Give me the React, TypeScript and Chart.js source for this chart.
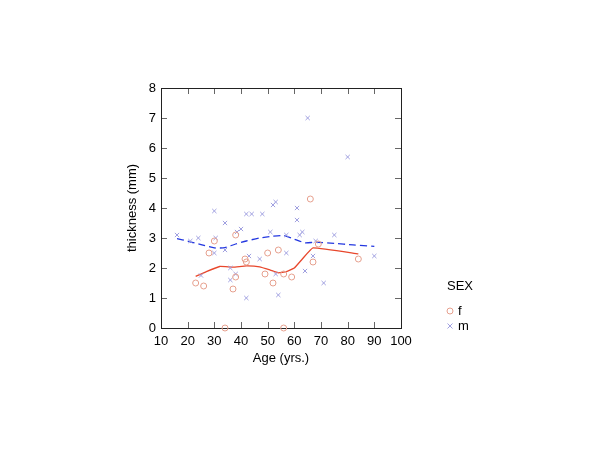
import React, { useEffect, useRef } from "react";
import { Chart, registerables } from "chart.js";

Chart.register(...registerables);

// ---- data ----
const femaleAge = [23, 26, 28, 30, 34, 37, 38, 38, 41.5, 42, 49, 50, 52, 54, 56, 56, 59, 66, 67, 69, 84];
const femaleThickness = [1.5, 1.4, 2.5, 2.9, 0.0, 1.3, 1.7, 3.1, 2.3, 2.2, 1.8, 2.5, 1.5, 2.6, 1.8, 0.0, 1.7, 4.3, 2.2, 2.8, 2.3];

const maleAge = [16, 21, 24, 25, 30, 30.5, 30, 34, 34, 36, 36, 38, 38.5, 40, 42, 44, 48, 42, 43, 47, 51, 52, 53, 53, 54, 57, 57, 61, 61, 62, 63, 64, 65, 67, 68, 71, 75, 80, 90];
const maleThickness = [3.1, 2.9, 3.0, 1.75, 3.9, 3.0, 2.5, 3.5, 2.6, 2.0, 1.6, 1.8, 3.2, 3.3, 3.8, 3.8, 3.8, 1.0, 2.4, 2.3, 3.2, 4.1, 4.2, 1.8, 1.1, 3.1, 2.5, 4.0, 3.6, 3.1, 3.2, 1.9, 7.0, 2.4, 2.9, 1.5, 3.1, 5.7, 2.4];

const femaleFitAge = [23, 27, 32, 37, 42, 47, 51, 54, 57, 60, 63, 67, 84];
const femaleFitValue = [1.72, 1.88, 2.05, 2.03, 2.07, 2.04, 1.93, 1.84, 1.88, 2.0, 2.3, 2.67, 2.47];

const maleFitAge = [16, 20, 25, 30, 34, 38, 42, 47, 52, 56, 60, 64, 68, 75, 82, 90];
const maleFitValue = [2.98, 2.9, 2.78, 2.67, 2.68, 2.8, 2.9, 3.0, 3.06, 3.08, 2.96, 2.84, 2.86, 2.82, 2.77, 2.72];

const xTickValues = [10, 20, 30, 40, 50, 60, 70, 80, 90, 100];
const yTickValues = [0, 1, 2, 3, 4, 5, 6, 7, 8];

const xTitle = "Age (yrs.)";
const yTitle = "thickness (mm)";
const legendTitle = "SEX";
const seriesLabels = ["f", "m"];

const femaleColor = "#e6a08e";
const maleColor = "#a0a0e0";
const femaleLineColor = "#e8472c";
const maleLineColor = "#2438e0";
const FONT = "'Liberation Sans', Arial, sans-serif";

const toPoints = (xs: number[], ys: number[]) => xs.map((x, i) => ({ x, y: ys[i] }));

const framePlugin = {
  id: "frameTicks",
  beforeDatasetsDraw(chart: any) {
    const { ctx, chartArea: a, scales } = chart;
    const xs = scales.x;
    const ys = scales.y;
    ctx.save();
    ctx.lineWidth = 1;
    ctx.strokeStyle = "#666";
    const tl = 6;
    ctx.beginPath();
    xTickValues.forEach((v) => {
      const px = Math.round(xs.getPixelForValue(v)) + 0.5;
      ctx.moveTo(px, a.bottom);
      ctx.lineTo(px, a.bottom - tl);
      ctx.moveTo(px, a.top);
      ctx.lineTo(px, a.top + tl);
    });
    yTickValues.forEach((v) => {
      const py = Math.round(ys.getPixelForValue(v)) + 0.5;
      ctx.moveTo(a.left, py);
      ctx.lineTo(a.left + tl, py);
      ctx.moveTo(a.right, py);
      ctx.lineTo(a.right - tl, py);
    });
    ctx.stroke();
    ctx.strokeStyle = "#222";
    ctx.strokeRect(Math.round(a.left) + 0.5, Math.round(a.top) + 0.5, Math.round(a.right - a.left), Math.round(a.bottom - a.top));
    ctx.restore();
  },
  afterDraw(chart: any) {
    const { ctx } = chart;
    ctx.save();
    ctx.font = `13px ${FONT}`;
    ctx.fillStyle = "#000";
    ctx.textBaseline = "middle";
    ctx.textAlign = "left";
    ctx.fillText(legendTitle, 447, 286);
    // f
    ctx.strokeStyle = femaleColor;
    ctx.lineWidth = 1;
    ctx.beginPath();
    ctx.arc(450, 311, 3, 0, Math.PI * 2);
    ctx.stroke();
    ctx.fillText(seriesLabels[0], 458, 311);
    // m
    ctx.strokeStyle = maleColor;
    ctx.beginPath();
    ctx.moveTo(447.5, 323.5);
    ctx.lineTo(452.5, 328.5);
    ctx.moveTo(452.5, 323.5);
    ctx.lineTo(447.5, 328.5);
    ctx.stroke();
    ctx.fillText(seriesLabels[1], 458, 326);
    ctx.restore();
  },
};

export default function App() {
  const ref = useRef<HTMLCanvasElement>(null);
  useEffect(() => {
    if (!ref.current) return;
    Chart.defaults.font.family = FONT;
    Chart.defaults.font.size = 13;
    Chart.defaults.color = "#000";
    const chart = new Chart(ref.current, {
      type: "scatter",
      data: {
        datasets: [
          {
            label: seriesLabels[0],
            data: toPoints(femaleAge, femaleThickness),
            pointStyle: "circle",
            pointRadius: 3,
            borderColor: femaleColor,
            backgroundColor: "rgba(0,0,0,0)",
            borderWidth: 1,
            clip: false,
          } as any,
          {
            label: seriesLabels[1],
            data: toPoints(maleAge, maleThickness),
            pointStyle: "crossRot",
            pointRadius: 3,
            borderColor: maleColor,
            backgroundColor: maleColor,
            borderWidth: 1,
            clip: false,
          } as any,
          {
            label: "f fit",
            data: toPoints(femaleFitAge, femaleFitValue),
            showLine: true,
            pointRadius: 0,
            borderColor: femaleLineColor,
            borderWidth: 1.3,
            tension: 0.1,
          } as any,
          {
            label: "m fit",
            data: toPoints(maleFitAge, maleFitValue),
            showLine: true,
            pointRadius: 0,
            borderColor: maleLineColor,
            borderWidth: 1.3,
            borderDash: [7, 4],
            tension: 0.2,
          } as any,
        ],
      },
      options: {
        animation: false,
        responsive: false,
        layout: { padding: { left: 121, right: 199, top: 88, bottom: 81 } },
        plugins: { legend: { display: false }, tooltip: { enabled: false } },
        scales: {
          x: {
            type: "linear",
            min: 10,
            max: 100,
            afterBuildTicks: (s: any) => {
              s.ticks = xTickValues.map((v) => ({ value: v }));
            },
            afterFit: (s: any) => {
              s.height = 41;
            },
            grid: { display: false, drawTicks: false },
            border: { display: false },
            ticks: { padding: 6, font: { size: 13 }, color: "#000", maxRotation: 0, minRotation: 0, autoSkip: false },
            title: { display: true, text: xTitle, font: { size: 13 }, color: "#000", padding: { top: 0, bottom: 3 } },
          },
          y: {
            type: "linear",
            min: 0,
            max: 8,
            afterBuildTicks: (s: any) => {
              s.ticks = yTickValues.map((v) => ({ value: v }));
            },
            afterFit: (s: any) => {
              s.width = 40;
            },
            grid: { display: false, drawTicks: false },
            border: { display: false },
            ticks: { padding: 5, font: { size: 13 }, color: "#000", autoSkip: false },
            title: { display: true, text: yTitle, font: { size: 13 }, color: "#000", padding: { top: 4, bottom: 0 } },
          },
        },
      },
      plugins: [framePlugin],
    });
    return () => chart.destroy();
  }, []);
  return (
    <div style={{ position: "absolute", left: 0, top: 0, width: 600, height: 450, background: "#fff" }}>
      <canvas ref={ref} width={600} height={450} style={{ width: 600, height: 450 }} />
    </div>
  );
}
